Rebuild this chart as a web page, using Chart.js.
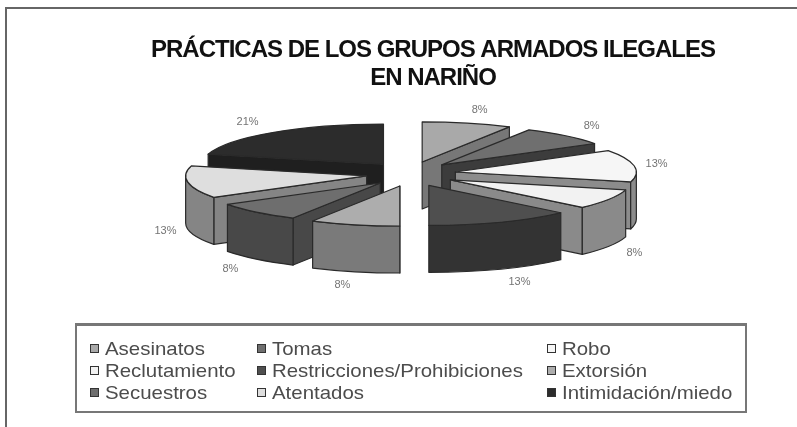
<!DOCTYPE html>
<html lang="es">
<head>
<meta charset="utf-8">
<title>Prácticas de los grupos armados ilegales en Nariño</title>
<script src="https://cdn.jsdelivr.net/npm/chart.js@4/dist/chart.umd.js"></script>
<style>
    html, body { margin: 0; padding: 0; background: #fff; width: 797px; height: 427px; overflow: hidden; }
    #page { position: relative; width: 797px; height: 427px; }
    #chartCanvas { position: absolute; left: 0; top: 0; filter: blur(0.5px); }
    #frame { position: absolute; left: 5px; top: 7px; right: -4px; bottom: -4px; border: 2px solid #666; filter: blur(0.4px); }
    #legend {
        position: absolute; left: 75px; top: 323px; width: 668px; height: 85px;
        border: 2px solid #777; border-top-width: 3px; box-sizing: content-box;
        font: 19px "Liberation Sans", Arial, sans-serif; color: #4c4c4c;
        filter: blur(0.75px);
    }
    .item { position: absolute; line-height: 20px; white-space: nowrap; }
    .box { position: absolute; left: 0; top: 5px; width: 7px; height: 7px; border: 1px solid #333; }
    .text { position: absolute; left: 15px; top: 0; transform: scaleX(1.075); transform-origin: left center; }
</style>
</head>
<body>
<div id="page">
    <canvas id="chartCanvas" width="797" height="427"></canvas>
    <div id="frame"></div>
    <div id="legend"></div>
</div>
<script>
const titleLines = ["PRÁCTICAS DE LOS GRUPOS ARMADOS ILEGALES", "EN NARIÑO"];
const categories = ["Asesinatos", "Tomas", "Robo", "Reclutamiento", "Restricciones/Prohibiciones", "Extorsión", "Secuestros", "Atentados", "Intimidación/miedo"];
const values = [8, 8, 13, 8, 13, 8, 8, 13, 21];
const topColors = ["#a9a9a9", "#6f6f6f", "#f6f6f6", "#f2f2f2", "#4f4f4f", "#adadad", "#6e6e6e", "#dedede", "#2c2c2c"];
const sideColors = ["#777777", "#3c3c3c", "#8c8c8c", "#8a8a8a", "#333333", "#7a7a7a", "#484848", "#858585", "#1f1f1f"];

// tamaño del pastel ya proyectado (elipse) y alto del canto
const pieRx = 181;
const pieRy = 40;
const pieDepth = 47;
const pieShiftX = -22;
const explodeY = 1.25;

const pie3d = {
    id: 'pie3d',
    beforeDraw(chart) {
        chart.ctx.letterSpacing = '-1px';
    },
    beforeDatasetsDraw(chart) {
        const ctx = chart.ctx;
        ctx.letterSpacing = '0px';
        const arcs = chart.getDatasetMeta(0).data;

        const slices = arcs.map((arc, index) => {
            const kx = pieRx / arc.outerRadius;
            const ky = pieRy / arc.outerRadius;
            const mid = (arc.startAngle + arc.endAngle) / 2;
            return {
                index: index,
                start: arc.startAngle,
                end: arc.endAngle,
                mid: mid,
                x: arc.x + pieShiftX + Math.cos(mid) * arc.options.offset * kx,
                y: arc.y + Math.sin(mid) * arc.options.offset * ky * explodeY
            };
        });

        // primero lo de atrás
        const order = slices.slice().sort((a, b) => Math.sin(a.mid) - Math.sin(b.mid));

        ctx.save();
        ctx.lineWidth = 1.2;
        ctx.strokeStyle = '#2a2a2a';
        ctx.lineJoin = 'round';
        order.forEach(s => {
            const px = a => s.x + Math.cos(a) * pieRx;
            const py = a => s.y + Math.sin(a) * pieRy;
            ctx.fillStyle = sideColors[s.index];

            // paredes radiales que dan hacia el frente
            [s.start, s.end].forEach(a => {
                const visible = a === s.start ? Math.cos(a) < 0 : Math.cos(a) > 0;
                if (!visible) return;
                ctx.beginPath();
                ctx.moveTo(s.x, s.y);
                ctx.lineTo(px(a), py(a));
                ctx.lineTo(px(a), py(a) + pieDepth);
                ctx.lineTo(s.x, s.y + pieDepth);
                ctx.closePath();
                ctx.fill();
                ctx.stroke();
            });

            // canto exterior, solo la parte de abajo de la elipse
            const a0 = Math.max(s.start, 0);
            const a1 = Math.min(s.end, Math.PI);
            if (a1 > a0) {
                ctx.beginPath();
                ctx.ellipse(s.x, s.y, pieRx, pieRy, 0, a0, a1);
                ctx.lineTo(px(a1), py(a1) + pieDepth);
                ctx.ellipse(s.x, s.y + pieDepth, pieRx, pieRy, 0, a1, a0, true);
                ctx.closePath();
                ctx.fill();
                ctx.stroke();
            }

            // cara superior
            ctx.fillStyle = topColors[s.index];
            ctx.beginPath();
            ctx.moveTo(s.x, s.y);
            ctx.ellipse(s.x, s.y, pieRx, pieRy, 0, s.start, s.end);
            ctx.closePath();
            ctx.fill();
            ctx.stroke();
        });

        // porcentajes
        ctx.font = '11px "Liberation Sans", Arial, sans-serif';
        ctx.fillStyle = '#747474';
        ctx.textAlign = 'center';
        ctx.textBaseline = 'middle';
        slices.forEach(s => {
            const sinMid = Math.sin(s.mid);
            const cosMid = Math.cos(s.mid);
            const rx = 203 + 30 * sinMid * sinMid;
            const lx = s.x + cosMid * rx;
            const ly = s.y + sinMid * 54 + (sinMid > 0 ? pieDepth : 0);
            ctx.fillText(values[s.index] + '%', lx, ly);
        });
        ctx.restore();
        return false;
    }
};

function buildLegend() {
    const legend = document.getElementById('legend');
    const columns = [13, 180, 470];
    const rows = [13, 35, 57];
    categories.forEach((label, index) => {
        const item = document.createElement('div');
        item.className = 'item';
        item.style.left = columns[index % 3] + 'px';
        item.style.top = rows[Math.floor(index / 3)] + 'px';
        const box = document.createElement('span');
        box.className = 'box';
        box.style.background = topColors[index];
        const text = document.createElement('span');
        text.className = 'text';
        text.textContent = label;
        item.appendChild(box);
        item.appendChild(text);
        legend.appendChild(item);
    });
}

const chart = new Chart(document.getElementById('chartCanvas').getContext('2d'), {
    type: 'pie',
    plugins: [pie3d],
    data: {
        labels: categories,
        datasets: [{
            data: values,
            backgroundColor: topColors,
            borderWidth: 1,
            offset: 18
        }]
    },
    options: {
        responsive: false,
        animation: false,
        layout: { padding: { left: 69, top: 36, bottom: 171 } },
        plugins: {
            legend: { display: false },
            tooltip: { enabled: false },
            title: {
                display: true,
                text: titleLines,
                color: '#111111',
                font: { family: '"Liberation Sans", Arial, sans-serif', size: 24, weight: 'bold', lineHeight: 1.165 },
                padding: { top: 0, bottom: 0 }
            }
        }
    }
});
buildLegend();
</script>
</body>
</html>
